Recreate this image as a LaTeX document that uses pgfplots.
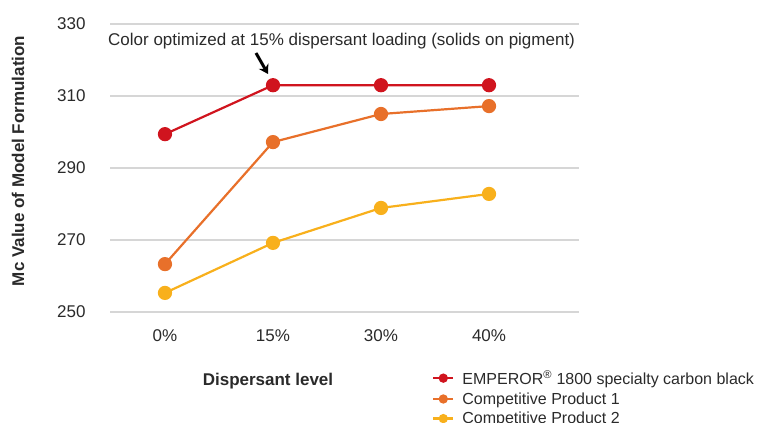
\documentclass[border=0pt]{standalone}
\usepackage{pgfplots}
\pgfplotsset{compat=1.18}
\usepackage{fontspec}
\setmainfont{Liberation Sans}
\usetikzlibrary{arrows.meta}
\definecolor{cRed}{HTML}{D0141E}
\definecolor{cOrange}{HTML}{E8702A}
\definecolor{cYellow}{HTML}{F8B01C}
\definecolor{gridc}{HTML}{D6D6D6}
\definecolor{txt}{HTML}{2A2A2A}
\newcommand{\fs}{\fontsize{17pt}{19pt}\selectfont}
\newcommand{\fl}{\fontsize{16pt}{18pt}\selectfont}

\begin{document}
\begin{tikzpicture}
  \path[use as bounding box] (0pt,0pt) rectangle (764pt,423pt);
  \begin{axis}[
      at={(110pt,111pt)}, anchor=south west,
      scale only axis, width=469pt, height=288pt,
      xmin=-0.509, xmax=3.833,
      ymin=250, ymax=330,
      ytick={250,270,290,310,330},
      xtick={0,1,2,3},
      xticklabels={0\%,15\%,30\%,40\%},
      axis line style={draw=none},
      major tick length=0pt,
      ymajorgrids,
      grid style={gridc, line width=2.5pt},
      clip=false,
      /pgf/number format/assume math mode=true,
      ticklabel style={font=\fs, text=txt},
      xticklabel style={yshift=-14pt},
      yticklabel style={xshift=-21pt},
      legend style={at={(0.6866,-0.195)}, anchor=north west, draw=none,
        fill=none, font=\fl, text=txt, row sep=2.5pt, inner sep=0pt,
        /tikz/every odd column/.append style={column sep=6pt}},
      legend cell align=left,
      legend image code/.code={\draw[mark repeat=2,mark phase=2,#1]
        plot coordinates {(0pt,0pt) (10pt,0pt) (20pt,0pt)};},
      legend image post style={mark size=3.5pt},
      every axis plot/.append style={line width=2.2pt, mark=*, mark size=6pt},
    ]
    \addplot[cRed] coordinates {(0,299.4) (1,313) (2,313) (3,313)};
    \addplot[cOrange] coordinates {(0,263.3) (1,297.2) (2,305) (3,307.2)};
    \addplot[cYellow] coordinates {(0,255.3) (1,269.2) (2,278.9) (3,282.8)};
    \legend{EMPEROR\textsuperscript{\textregistered} 1800 specialty carbon black,
      Competitive Product 1, Competitive Product 2}
  \end{axis}
  \node[anchor=west, font=\fs, text=txt, inner sep=0pt] at (108pt,382pt)
    {Color optimized at 15\% dispersant loading (solids on pigment)};
  \draw[line width=3pt, -{Stealth[length=9pt,width=11pt]}] (256pt,370pt) -- (268pt,349pt);
  \node[rotate=90, font=\fs\bfseries, text=txt] at (18pt,262pt)
    {Mc Value of Model Formulation};
  \node[font=\fs\bfseries, text=txt] at (268pt,42pt) {Dispersant level};
\end{tikzpicture}
\end{document}
